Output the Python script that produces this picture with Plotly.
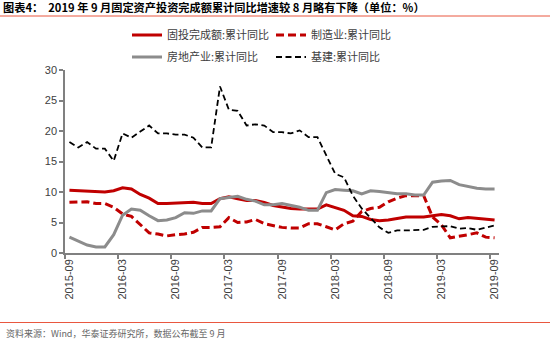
import plotly.graph_objects as go

# Monthly categories, 2015-09 .. 2019-09 (January repeats the December reading)
months = [
    "2015-09", "2015-10", "2015-11", "2015-12",
    "2016-01", "2016-02", "2016-03", "2016-04", "2016-05", "2016-06",
    "2016-07", "2016-08", "2016-09", "2016-10", "2016-11", "2016-12",
    "2017-01", "2017-02", "2017-03", "2017-04", "2017-05", "2017-06",
    "2017-07", "2017-08", "2017-09", "2017-10", "2017-11", "2017-12",
    "2018-01", "2018-02", "2018-03", "2018-04", "2018-05", "2018-06",
    "2018-07", "2018-08", "2018-09", "2018-10", "2018-11", "2018-12",
    "2019-01", "2019-02", "2019-03", "2019-04", "2019-05", "2019-06",
    "2019-07", "2019-08", "2019-09",
]

# Cumulative YoY growth, %
fai = [
    10.3, 10.2, 10.2, 10.0,
    10.0, 10.2, 10.7, 10.5, 9.6, 9.0, 8.1, 8.1, 8.2, 8.3, 8.3, 8.1,
    8.1, 8.9, 9.2, 8.9, 8.6, 8.6, 8.3, 7.8, 7.5, 7.3, 7.2, 7.2,
    7.2, 7.9, 7.5, 7.0, 6.1, 6.0, 5.5, 5.3, 5.4, 5.7, 5.9, 5.9,
    5.9, 6.1, 6.3, 6.1, 5.6, 5.8, 5.7, 5.5, 5.4,
]
manufacturing = [
    8.3, 8.3, 8.4, 8.1,
    8.1, 7.5, 6.4, 6.0, 4.6, 3.3, 3.1, 2.8, 3.0, 3.1, 3.4, 4.2,
    4.2, 4.3, 5.8, 5.0, 5.1, 5.5, 4.8, 4.5, 4.2, 4.1, 4.1, 4.8,
    4.8, 4.3, 3.8, 4.8, 5.2, 6.8, 7.3, 7.5, 8.4, 9.0, 9.4, 9.4,
    9.4, 5.9, 4.6, 2.5, 2.7, 3.0, 3.3, 2.6, 2.5,
]
real_estate = [
    2.6, 2.0, 1.3, 1.0,
    1.0, 3.0, 6.2, 7.2, 7.0, 6.1, 5.3, 5.4, 5.8, 6.6, 6.5, 6.9,
    6.9, 8.9, 9.1, 9.3, 8.8, 8.5, 7.9, 7.9, 8.1, 7.8, 7.5, 7.0,
    7.0, 9.9, 10.4, 10.3, 10.2, 9.7, 10.2, 10.1, 9.9, 9.7, 9.7, 9.5,
    9.5, 11.6, 11.8, 11.9, 11.2, 10.9, 10.6, 10.5, 10.5,
]
infrastructure = [
    18.2, 17.3, 18.2, 17.1,
    17.1, 15.1, 19.6, 18.9, 19.9, 20.9, 19.6, 19.6, 19.4, 19.4, 18.9, 17.3,
    17.3, 27.3, 23.5, 23.3, 20.9, 21.1, 20.9, 19.8, 19.8, 19.6, 20.1, 19.0,
    19.0, 16.1, 13.0, 12.4, 9.4, 7.3, 5.7, 4.2, 3.3, 3.7, 3.7, 3.8,
    3.8, 4.3, 4.4, 4.4, 4.0, 4.1, 3.8, 4.2, 4.5,
]

names = ["固投完成额:累计同比", "制造业:累计同比", "房地产业:累计同比", "基建:累计同比"]

title_text = "图表4：  2019 年 9 月固定资产投资完成额累计同比增速较 8 月略有下降（单位：%）"
source_text = "资料来源：Wind，华泰证券研究所，数据公布截至 9 月"

W, H = 550, 341
ML, MR, MT, MB = 65, 51, 70, 88
PW, PH = W - ML - MR, H - MT - MB


def px_x(p):
    return (p - ML) / PW


def px_y(p):
    return (H - MB - p) / PH


cjk = "Noto Sans CJK SC"
red = "#C00000"
gray = "#8C8C8C"
accent = "#E9573F"

fig = go.Figure()
fig.add_trace(go.Scatter(x=months, y=fai, name=names[0], mode="lines",
                         line=dict(color=red, width=3), legend="legend"))
fig.add_trace(go.Scatter(x=months, y=manufacturing, name=names[1], mode="lines",
                         line=dict(color=red, width=3, dash="8px,4px"), legend="legend"))
fig.add_trace(go.Scatter(x=months, y=real_estate, name=names[2], mode="lines",
                         line=dict(color=gray, width=3), legend="legend2"))
fig.add_trace(go.Scatter(x=months, y=infrastructure, name=names[3], mode="lines",
                         line=dict(color="#000000", width=1.8, dash="6px,3.5px"),
                         legend="legend2"))

legend_common = dict(
    orientation="h", xref="paper", yref="paper",
    xanchor="left", yanchor="middle",
    font=dict(family=cjk, size=11, color="#404040"),
    entrywidth=99, bgcolor="rgba(0,0,0,0)", borderwidth=0,
)

fig.update_layout(
    width=W, height=H,
    margin=dict(l=ML, r=MR, t=MT, b=MB, autoexpand=False),
    paper_bgcolor="white", plot_bgcolor="white",
    showlegend=True,
    title=dict(text=title_text, xref="container", yref="container",
               x=3 / W, xanchor="left", y=1 - 8 / H, yanchor="middle",
               font=dict(family=cjk, size=11.2, color="#000000", weight="bold")),
    legend=dict(x=px_x(127), y=px_y(35), **legend_common),
    legend2=dict(x=px_x(127), y=px_y(57), **legend_common),
    xaxis=dict(
        type="category", range=[-0.5, len(months) - 0.5], dtick=6,
        tickson="boundaries", ticks="outside", ticklen=4,
        tickcolor="#808080", tickwidth=1.5,
        showline=True, linecolor="#808080", linewidth=1.5,
        showgrid=False, tickangle=-90,
        tickfont=dict(family="Arial", size=11, color="#404040"),
    ),
    yaxis=dict(
        range=[0, 30], dtick=5, ticks="outside", ticklen=4,
        tickcolor="#808080", tickwidth=1.5,
        showline=True, linecolor="#808080", linewidth=1.5,
        showgrid=False, zeroline=False,
        tickfont=dict(family="Arial", size=11, color="#404040"),
    ),
    shapes=[
        dict(type="line", xref="paper", yref="paper",
             x0=px_x(0), x1=px_x(W), y0=px_y(16), y1=px_y(16),
             line=dict(color=accent, width=1)),
        dict(type="line", xref="paper", yref="paper",
             x0=px_x(0), x1=px_x(W), y0=px_y(322.5), y1=px_y(322.5),
             line=dict(color=accent, width=1)),
    ],
    annotations=[
        dict(text=source_text, xref="paper", yref="paper",
             x=px_x(4), y=px_y(333), xanchor="left", yanchor="middle",
             showarrow=False,
             font=dict(family=cjk, size=9, color="#666666")),
    ],
)

fig.write_html("out.html")
